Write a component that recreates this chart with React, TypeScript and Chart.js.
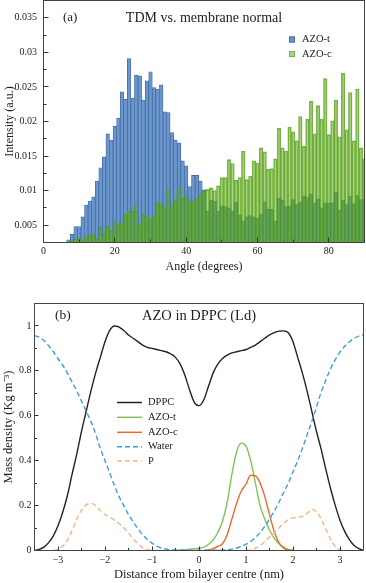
import React, { useEffect, useRef } from 'react';
import { Chart, registerables } from 'chart.js';

Chart.register(...registerables);

const SERIF = "'Liberation Serif', 'Times New Roman', serif";
const INK = '#222222';

// ---------------- Panel (a): TDM vs. membrane normal ----------------
const ANGLE_BINS = [
  0, 1, 2, 3, 4, 5, 6, 7, 8, 9,
  10, 11, 12, 13, 14, 15, 16, 17, 18, 19,
  20, 21, 22, 23, 24, 25, 26, 27, 28, 29,
  30, 31, 32, 33, 34, 35, 36, 37, 38, 39,
  40, 41, 42, 43, 44, 45, 46, 47, 48, 49,
  50, 51, 52, 53, 54, 55, 56, 57, 58, 59,
  60, 61, 62, 63, 64, 65, 66, 67, 68, 69,
  70, 71, 72, 73, 74, 75, 76, 77, 78, 79,
  80, 81, 82, 83, 84, 85, 86, 87, 88, 89,
  90,
];

const AZO_T_HIST = [
  0, 0, 0, 0, 0.0005, 0.001, 0.002, 0.0029, 0.0037, 0.0048,
  0.0048, 0.0062, 0.0079, 0.0085, 0.0091, 0.0114, 0.0133, 0.0149, 0.0182, 0.0173,
  0.0193, 0.0205, 0.0243, 0.0232, 0.0291, 0.0234, 0.0267, 0.0266, 0.0231, 0.0259,
  0.0272, 0.0249, 0.0247, 0.0253, 0.0214, 0.0213, 0.0184, 0.0173, 0.0169, 0.0143,
  0.0136, 0.0106, 0.0122, 0.0122, 0.0114, 0.0101, 0.007, 0.0086, 0.0085, 0.007,
  0.0078, 0.0077, 0.0075, 0.007, 0.0083, 0.0065, 0.0056, 0.0062, 0.0064, 0.0062,
  0.006, 0.0066, 0.0084, 0.0073, 0.0073, 0.0056, 0.0089, 0.0086, 0.0077, 0.0078,
  0.0087, 0.008, 0.0083, 0.0092, 0.009, 0.0095, 0.0082, 0.0088, 0.0075, 0.0082,
  0.0082, 0.0082, 0.0098, 0.0072, 0.0086, 0.008, 0.0092, 0.0081, 0.0093, 0.0087,
  0.0087,
];

const AZO_C_HIST = [
  0, 0, 0, 0, 0, 0.001, 0.0015, 0.002, 0.0028, 0.003,
  0.0031, 0.0027, 0.0034, 0.0036, 0.0036, 0.003, 0.0047, 0.0037, 0.0049, 0.0041,
  0.0054, 0.0051, 0.0053, 0.0066, 0.007, 0.007, 0.0078, 0.0052, 0.0066, 0.0062,
  0.0059, 0.0063, 0.0082, 0.0081, 0.0075, 0.0101, 0.0078, 0.0086, 0.0105, 0.0089,
  0.0092, 0.0084, 0.0086, 0.0089, 0.0095, 0.0099, 0.0102, 0.0104, 0.01, 0.0107,
  0.0119, 0.0119, 0.0145, 0.0139, 0.0115, 0.0119, 0.0157, 0.0116, 0.0121, 0.0143,
  0.014, 0.0162, 0.0156, 0.0131, 0.0132, 0.0146, 0.019, 0.0162, 0.0157, 0.0192,
  0.0185, 0.0172, 0.0207, 0.0164, 0.0203, 0.0229, 0.0182, 0.0223, 0.0203, 0.0262,
  0.0181, 0.0201, 0.0231, 0.0178, 0.027, 0.0188, 0.0242, 0.0172, 0.0247, 0.0162,
  0.0146,
];

const HIST_X_TICKS = [0, 20, 40, 60, 80];
const HIST_X_MINOR = [10, 30, 50, 70];
const HIST_Y_TICKS = [0.005, 0.01, 0.015, 0.02, 0.025, 0.03, 0.035];
const HIST_Y_MINOR = [0.0075, 0.0125, 0.0175, 0.0225, 0.0275, 0.0325];

// ---------------- Panel (b): AZO in DPPC (Ld) ----------------
const DISTANCE = [
  -3.5, -3.4, -3.3, -3.2, -3.1, -3.0, -2.9, -2.8, -2.7, -2.6,
  -2.5, -2.4, -2.3, -2.2, -2.1, -2.0, -1.9, -1.8, -1.7, -1.6,
  -1.5, -1.4, -1.3, -1.2, -1.1, -1.0, -0.9, -0.8, -0.7, -0.6,
  -0.5, -0.4, -0.3, -0.2, -0.1, 0, 0.1, 0.2, 0.3, 0.4,
  0.5, 0.6, 0.7, 0.8, 0.9, 1.0, 1.1, 1.2, 1.3, 1.4,
  1.5, 1.6, 1.7, 1.8, 1.9, 2.0, 2.1, 2.2, 2.3, 2.4,
  2.5, 2.6, 2.7, 2.8, 2.9, 3.0, 3.1, 3.2, 3.3, 3.4,
  3.5,
];

const DPPC = [
  0.0, 0.005, 0.015, 0.035, 0.065, 0.11, 0.17, 0.245, 0.34, 0.43,
  0.53, 0.62, 0.71, 0.79, 0.86, 0.93, 0.98, 1.0, 0.995, 0.98,
  0.96, 0.945, 0.93, 0.915, 0.905, 0.9, 0.895, 0.89, 0.885, 0.875,
  0.86, 0.83, 0.78, 0.715, 0.66, 0.645, 0.67, 0.73, 0.79, 0.83,
  0.855, 0.87, 0.88, 0.885, 0.89, 0.895, 0.905, 0.915, 0.93, 0.945,
  0.96, 0.97, 0.977, 0.978, 0.97, 0.93, 0.86, 0.79, 0.71, 0.62,
  0.53, 0.45, 0.36, 0.275, 0.2, 0.135, 0.085, 0.048, 0.022, 0.008,
  0.0,
];

const AZO_T = [
  null, null, null, null, null, null, null, null, null, null,
  null, null, null, null, null, null, null, null, null, null,
  null, null, null, null, null, null, null, null, null, null,
  0.001, 0.002, 0.004, 0.006, 0.008, 0.01, 0.015, 0.027, 0.047, 0.08,
  0.13, 0.215, 0.34, 0.44, 0.478, 0.465, 0.4, 0.3, 0.2, 0.14,
  0.09, 0.055, 0.03, 0.015, 0.005, 0.001, null, null, null, null,
  null, null, null, null, null, null, null, null, null, null,
  null,
];

const AZO_C = [
  null, null, null, null, null, null, null, null, null, null,
  null, null, null, null, null, null, null, null, null, null,
  null, null, null, null, null, null, null, null, null, null,
  null, null, null, null, null, null, 0, 0.002, 0.008, 0.018,
  0.03, 0.07, 0.14, 0.21, 0.265, 0.295, 0.335, 0.333, 0.3, 0.24,
  0.16, 0.085, 0.035, 0.01, 0.002, 0, null, null, null, null,
  null, null, null, null, null, null, null, null, null, null,
  null,
];

const WATER = [
  0.957, 0.95, 0.935, 0.912, 0.885, 0.855, 0.825, 0.79, 0.75, 0.71,
  0.665, 0.62, 0.575, 0.52, 0.455, 0.4, 0.345, 0.29, 0.24, 0.2,
  0.16, 0.128, 0.097, 0.07, 0.05, 0.033, 0.02, 0.011, 0.006, 0.003,
  0.002, 0.001, 0.001, 0.001, 0.001, 0.001, 0.001, 0.001, 0.001, 0.001,
  0.002, 0.003, 0.006, 0.011, 0.018, 0.028, 0.04, 0.058, 0.08, 0.108,
  0.14, 0.175, 0.215, 0.258, 0.3, 0.35, 0.4, 0.455, 0.515, 0.575,
  0.64, 0.705, 0.76, 0.81, 0.85, 0.885, 0.91, 0.93, 0.945, 0.955,
  0.96,
];

const PHOS = [
  null, null, null, null, 0, 0.005, 0.02, 0.045, 0.09, 0.14,
  0.18, 0.203, 0.21, 0.2, 0.178, 0.16, 0.148, 0.135, 0.12, 0.1,
  0.078, 0.053, 0.03, 0.013, 0.004, 0, null, null, null, null,
  null, null, null, null, null, null, null, null, null, null,
  null, null, null, null, null, 0, 0.003, 0.01, 0.022, 0.04,
  0.06, 0.08, 0.1, 0.122, 0.137, 0.145, 0.148, 0.152, 0.165, 0.183,
  0.172, 0.14, 0.095, 0.05, 0.018, 0.003, 0, null, null, null,
  null,
];

const DENS_X_TICKS = [-3, -2, -1, 0, 1, 2, 3];
const DENS_X_MINOR = [-2.5, -1.5, -0.5, 0.5, 1.5, 2.5];
const DENS_Y_TICKS = [0, 0.2, 0.4, 0.6, 0.8, 1];
const DENS_Y_MINOR = [0.1, 0.3, 0.5, 0.7, 0.9];

// colours
const BLUE_FILL = 'rgb(108,150,202)';
const BLUE_EDGE = 'rgb(62,108,168)';
const GREEN_FILL = 'rgba(95,170,25,0.52)';
const GREEN_EDGE = 'rgba(80,155,20,0.75)';
const C_DPPC = '#222222';
const C_AZOT = '#84c254';
const C_AZOC = '#ef6a2a';
const C_WATER = '#3a9fd8';
const C_P = '#f6b489';

type Decor = {
  xMajor: number[]; xMinor: number[]; yMajor: number[]; yMinor: number[];
  majorLen: number; minorLen: number;
  text: (ctx: CanvasRenderingContext2D, chart: any) => void;
};

function decorPlugin(d: Decor) {
  return {
    id: 'decor',
    afterDatasetsDraw(chart: any) {
      const { ctx, chartArea: a } = chart;
      const xs = chart.scales.x;
      const ys = chart.scales.y;
      const snap = (p: number) => Math.round(p - 0.5) + 0.5;
      ctx.save();
      ctx.strokeStyle = '#333';
      ctx.lineWidth = 1;
      ctx.beginPath();
      d.xMajor.forEach((v) => {
        const p = snap(xs.getPixelForValue(v));
        ctx.moveTo(p, a.bottom); ctx.lineTo(p, a.bottom - d.majorLen);
      });
      d.xMinor.forEach((v) => {
        const p = snap(xs.getPixelForValue(v));
        ctx.moveTo(p, a.bottom); ctx.lineTo(p, a.bottom - d.minorLen);
      });
      d.yMajor.forEach((v) => {
        const p = snap(ys.getPixelForValue(v));
        ctx.moveTo(a.left, p); ctx.lineTo(a.left + d.majorLen, p);
      });
      d.yMinor.forEach((v) => {
        const p = snap(ys.getPixelForValue(v));
        ctx.moveTo(a.left, p); ctx.lineTo(a.left + d.minorLen, p);
      });
      ctx.stroke();
      ctx.strokeStyle = '#444';
      ctx.strokeRect(a.left, a.top, a.right - a.left, a.bottom - a.top);
      ctx.restore();
    },
    afterDraw(chart: any) {
      const ctx = chart.ctx;
      ctx.save();
      d.text(ctx, chart);
      ctx.restore();
    },
  };
}

function scaleCommon(fontSize: number, padding: number, labelFmt: (v: number) => string) {
  return {
    grid: { display: false, drawTicks: false },
    border: { display: false },
    ticks: {
      color: INK,
      padding,
      maxRotation: 0,
      autoSkip: false,
      font: { family: SERIF, size: fontSize },
      callback: (v: any) => labelFmt(Number(v)),
    },
  };
}

export default function App() {
  const topRef = useRef<HTMLCanvasElement>(null);
  const botRef = useRef<HTMLCanvasElement>(null);

  useEffect(() => {
    document.body.style.margin = '0';

    const histText = (ctx: CanvasRenderingContext2D, chart: any) => {
      const a = chart.chartArea;
      ctx.fillStyle = INK;
      ctx.textBaseline = 'middle';
      ctx.font = `13px ${SERIF}`;
      ctx.textAlign = 'left';
      ctx.fillText('(a)', 63, 18);
      ctx.font = `14px ${SERIF}`;
      ctx.textAlign = 'center';
      ctx.fillText('TDM vs. membrane normal', (a.left + a.right) / 2, 18);
      // legend
      const items = [
        { label: 'AZO-t', fill: BLUE_FILL, edge: BLUE_EDGE, y: 39.5 },
        { label: 'AZO-c', fill: 'rgb(172,211,135)', edge: 'rgb(120,180,70)', y: 54 },
      ];
      items.forEach((it) => {
        ctx.fillStyle = it.fill;
        ctx.fillRect(289, it.y - 3, 6, 6);
        ctx.strokeStyle = it.edge;
        ctx.lineWidth = 1;
        ctx.strokeRect(289.5, it.y - 2.5, 5, 5);
        ctx.fillStyle = INK;
        ctx.font = `10.5px ${SERIF}`;
        ctx.textAlign = 'left';
        ctx.fillText(it.label, 302, it.y);
      });
    };

    const densText = (ctx: CanvasRenderingContext2D, chart: any) => {
      const a = chart.chartArea;
      ctx.fillStyle = INK;
      ctx.textBaseline = 'middle';
      ctx.font = `13.5px ${SERIF}`;
      ctx.textAlign = 'left';
      ctx.fillText('(b)', 55, 30.7);
      ctx.font = `14.5px ${SERIF}`;
      ctx.textAlign = 'center';
      ctx.fillText('AZO in DPPC (Ld)', (a.left + a.right) / 2, 30.7);
      const items = [
        { label: 'DPPC', color: C_DPPC, dash: [] as number[], y: 117.5 },
        { label: 'AZO-t', color: C_AZOT, dash: [], y: 132.3 },
        { label: 'AZO-c', color: C_AZOC, dash: [], y: 147.3 },
        { label: 'Water', color: C_WATER, dash: [5, 3], y: 161.7 },
        { label: 'P', color: C_P, dash: [5, 3], y: 176 },
      ];
      items.forEach((it) => {
        ctx.strokeStyle = it.color;
        ctx.lineWidth = 1.5;
        ctx.setLineDash(it.dash);
        ctx.beginPath();
        ctx.moveTo(117, it.y);
        ctx.lineTo(142, it.y);
        ctx.stroke();
        ctx.setLineDash([]);
        ctx.fillStyle = INK;
        ctx.font = `10.5px ${SERIF}`;
        ctx.textAlign = 'left';
        ctx.fillText(it.label, 148, it.y);
      });
    };

    const hist = new Chart(topRef.current as HTMLCanvasElement, {
      type: 'bar',
      data: {
        datasets: [
          {
            label: 'AZO-c',
            data: ANGLE_BINS.map((a, i) => ({ x: a, y: AZO_C_HIST[i] })),
            backgroundColor: GREEN_FILL,
            borderColor: GREEN_EDGE,
            borderWidth: 0.8,
            grouped: false,
            barPercentage: 1,
            categoryPercentage: 1,
            order: 0,
          } as any,
          {
            label: 'AZO-t',
            data: ANGLE_BINS.map((a, i) => ({ x: a, y: AZO_T_HIST[i] })),
            backgroundColor: BLUE_FILL,
            borderColor: BLUE_EDGE,
            borderWidth: 0.8,
            grouped: false,
            barPercentage: 1,
            categoryPercentage: 1,
            order: 1,
          } as any,
        ],
      },
      options: {
        responsive: false,
        animation: false,
        devicePixelRatio: 1,
        layout: { autoPadding: false, padding: { left: 0, top: 0.5, right: 1.5, bottom: 0 } },
        plugins: { legend: { display: false }, tooltip: { enabled: false }, title: { display: false } },
        scales: {
          x: {
            type: 'linear',
            min: 0,
            max: 90,
            offset: false,
            ...scaleCommon(10, 3, (v) => String(v)),
            afterBuildTicks: (s: any) => { s.ticks = HIST_X_TICKS.map((v) => ({ value: v })); },
            afterFit: (s: any) => { s.height = 42.5; s.paddingLeft = 0; s.paddingRight = 0; },
            title: {
              display: true, text: 'Angle (degrees)', color: INK,
              font: { family: SERIF, size: 12 }, padding: { top: 0, bottom: 10.5 },
            },
          } as any,
          y: {
            type: 'linear',
            min: 0.0025,
            max: 0.0375,
            ...scaleCommon(10, 6.5, (v) => String(v)),
            afterBuildTicks: (s: any) => { s.ticks = HIST_Y_TICKS.map((v) => ({ value: v })); },
            afterFit: (s: any) => { s.width = 43.5; s.paddingTop = 0; s.paddingBottom = 0; },
            title: {
              display: true, text: 'Intensity (a.u.)', color: INK,
              font: { family: SERIF, size: 12 }, padding: { top: 2.8, bottom: 0 },
            },
          } as any,
        },
      },
      plugins: [decorPlugin({
        xMajor: HIST_X_TICKS, xMinor: HIST_X_MINOR, yMajor: HIST_Y_TICKS, yMinor: HIST_Y_MINOR,
        majorLen: 5, minorLen: 3, text: histText,
      })],
    } as any);

    const line = (label: string, values: (number | null)[], color: string, dash: number[]) => ({
      label,
      data: DISTANCE.map((d, i) => ({ x: d, y: values[i] })),
      borderColor: color,
      backgroundColor: color,
      borderWidth: 1.4,
      borderDash: dash,
      pointRadius: 0,
      fill: false,
      cubicInterpolationMode: 'monotone',
      spanGaps: false,
    });

    const dens = new Chart(botRef.current as HTMLCanvasElement, {
      type: 'line',
      data: {
        datasets: [
          line('P', PHOS, C_P, [5, 3]),
          line('Water', WATER, C_WATER, [5, 3]),
          line('AZO-c', AZO_C, C_AZOC, []),
          line('AZO-t', AZO_T, C_AZOT, []),
          line('DPPC', DPPC, C_DPPC, []),
        ],
      },
      options: {
        responsive: false,
        animation: false,
        devicePixelRatio: 1,
        layout: { autoPadding: false, padding: { left: 0, top: 18.5, right: 2.5, bottom: 0 } },
        plugins: { legend: { display: false }, tooltip: { enabled: false }, title: { display: false } },
        scales: {
          x: {
            type: 'linear',
            min: -3.5,
            max: 3.5,
            ...scaleCommon(10, 3.5, (v) => (v < 0 ? '\u2212' + Math.abs(v) : String(v))),
            afterBuildTicks: (s: any) => { s.ticks = DENS_X_TICKS.map((v) => ({ value: v })); },
            afterFit: (s: any) => { s.height = 32.5; s.paddingLeft = 0; s.paddingRight = 0; },
            title: {
              display: true, text: 'Distance from bilayer centre (nm)', color: INK,
              font: { family: SERIF, size: 12.5 }, padding: { top: 0, bottom: 0.5 },
            },
          } as any,
          y: {
            type: 'linear',
            min: 0,
            max: 1.1,
            ...scaleCommon(10, 3, (v) => String(v)),
            afterBuildTicks: (s: any) => { s.ticks = DENS_Y_TICKS.map((v) => ({ value: v })); },
            afterFit: (s: any) => { s.width = 34.5; s.paddingTop = 0; s.paddingBottom = 0; },
            title: {
              display: true, text: 'Mass density (Kg m\u207B\u00B3)', color: INK,
              font: { family: SERIF, size: 12.5 }, padding: { top: 1, bottom: 0 },
            },
          } as any,
        },
      },
      plugins: [decorPlugin({
        xMajor: DENS_X_TICKS, xMinor: DENS_X_MINOR, yMajor: DENS_Y_TICKS.filter((v) => v > 0), yMinor: DENS_Y_MINOR,
        majorLen: 4, minorLen: 2.5, text: densText,
      })],
    } as any);

    return () => {
      hist.destroy();
      dens.destroy();
    };
  }, []);

  return (
    <div style={{ position: 'absolute', left: 0, top: 0, width: 366, height: 583, background: '#ffffff' }}>
      <canvas ref={topRef} width={366} height={285} style={{ position: 'absolute', left: 0, top: 0 }} />
      <canvas ref={botRef} width={366} height={298} style={{ position: 'absolute', left: 0, top: 285 }} />
    </div>
  );
}
